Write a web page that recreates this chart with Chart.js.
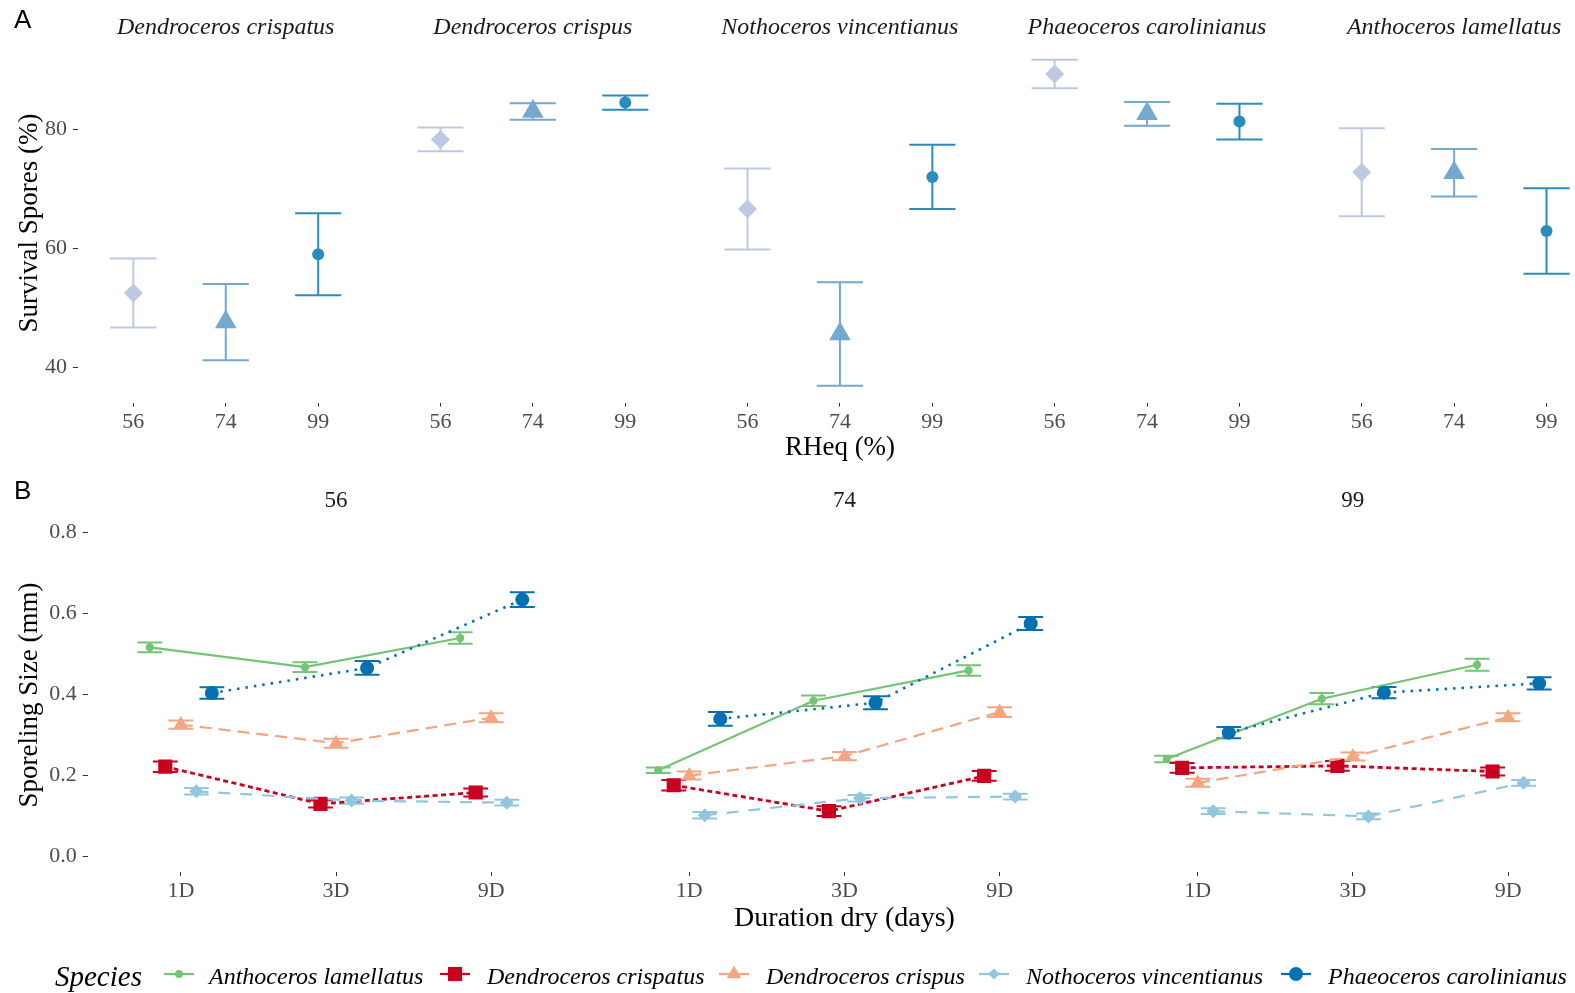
<!DOCTYPE html>
<html>
<head>
<meta charset="utf-8">
<script src="https://cdn.jsdelivr.net/npm/chart.js@4.4.1/dist/chart.umd.min.js"></script>
<style>
html,body{margin:0;padding:0;background:#fff;overflow:hidden;}
#wrap{position:relative;width:1575px;height:993px;font-family:"Liberation Serif","Times New Roman",serif;color:#1a1a1a;}
canvas{position:absolute;left:0;}
.t{position:absolute;white-space:nowrap;transform:translate(-50%,-50%);line-height:1;}
.it{font-style:italic;}
.rot{transform:translate(-50%,-50%) rotate(-90deg);}
.tag{position:absolute;font-family:"Liberation Sans",Arial,sans-serif;font-size:26px;line-height:1;transform:translateY(-50%);color:#000;}
.leg{position:absolute;white-space:nowrap;font-style:italic;font-size:24px;line-height:1;transform:translateY(-50%);color:#000;}
.key{position:absolute;transform:translate(-50%,-50%);}
</style>
</head>
<body>
<div id="wrap">
  <canvas id="chartA" width="1575" height="470" style="top:0px"></canvas>
  <canvas id="chartB" width="1575" height="523" style="top:470px"></canvas>
  <div id="labels"></div>
</div>
<script>
// ---------------- DATA ----------------
// Panel A: survival of spores (%) by species facet and RHeq level
const survivalSpecies = ['Dendroceros crispatus','Dendroceros crispus','Nothoceros vincentianus','Phaeoceros carolinianus','Anthoceros lamellatus'];
const rhLevels = ['56','74','99'];
const survival56   = [52.5, 78.3, 66.6, 89.3, 72.8];
const survival56Se = [5.8, 2.0, 6.8, 2.4, 7.4];
const survival74   = [47.6, 83.0, 45.6, 82.6, 72.7];
const survival74Se = [6.4, 1.4, 8.7, 2.0, 4.0];
const survival99   = [59.0, 84.5, 72.0, 81.3, 62.9];
const survival99Se = [6.9, 1.2, 5.4, 3.0, 7.2];
const survivalTicks = [40, 60, 80];

// Panel B: sporeling size (mm); each array = [RH56: 1D,3D,9D, RH74: 1D,3D,9D, RH99: 1D,3D,9D]
const dryDays = ['1D','3D','9D'];
const rhFacets = ['56','74','99'];
const sporeSpecies = ['Anthoceros lamellatus','Dendroceros crispatus','Dendroceros crispus','Nothoceros vincentianus','Phaeoceros carolinianus'];
const anthocerosSize = [0.516,0.467,0.539, 0.212,0.384,0.459, 0.240,0.389,0.473];
const anthocerosSe   = [0.012,0.012,0.014, 0.007,0.013,0.013, 0.008,0.014,0.015];
const crispatusSize  = [0.221,0.129,0.157, 0.175,0.111,0.198, 0.218,0.223,0.209];
const crispatusSe    = [0.013,0.009,0.010, 0.013,0.012,0.012, 0.012,0.012,0.010];
const crispusSize    = [0.325,0.279,0.342, 0.199,0.247,0.356, 0.181,0.246,0.343];
const crispusSe      = [0.010,0.011,0.011, 0.010,0.010,0.012, 0.010,0.010,0.010];
const nothocerosSize = [0.160,0.137,0.132, 0.101,0.143,0.147, 0.111,0.098,0.181];
const nothocerosSe   = [0.008,0.008,0.007, 0.008,0.008,0.007, 0.007,0.007,0.007];
const phaeocerosSize = [0.403,0.465,0.634, 0.339,0.379,0.575, 0.305,0.404,0.427];
const phaeocerosSe   = [0.014,0.017,0.018, 0.017,0.016,0.016, 0.014,0.014,0.015];
const sizeTicks = [0.0, 0.2, 0.4, 0.6, 0.8];

// ---------------- STYLE / LAYOUT ----------------
const FACET_A = 3.323, FACET_B = 3.276;
const DODGE = [-0.2, -0.1, 0, 0.1, 0.2];
const colA = ['#bdc9e1', '#74a9cf', '#2b8cbe'];
const shapeA = ['rectRot', 'triangle', 'circle'];
const radA = [9.5, 12.5, 6];
const colB = ['#74c476', '#ca0020', '#f4a582', '#92c5de', '#0571b0'];
const shapeB = ['circle', 'rect', 'triangle', 'rectRot', 'circle'];
const radB = [4, 10, 8.5, 7, 7];
const dashB = [[], [5, 3.5], [12, 7], [12, 10], [2.5, 6]];
const lwB = [2.2, 2.8, 2.2, 2.2, 2.6];
const TICK_COLOR = '#4d4d4d';
const FONT = '"Liberation Serif", "Times New Roman", serif';

const errorBarPlugin = {
  id: 'errbars',
  beforeDatasetsDraw(chart) {
    const ctx = chart.ctx, xs = chart.scales.x, ys = chart.scales.y;
    const cap = chart.options.plugins.errbars.cap;
    ctx.save();
    chart.data.datasets.forEach(ds => {
      ctx.strokeStyle = ds.pointBackgroundColor;
      ctx.lineWidth = 2;
      ctx.setLineDash([]);
      ds.data.forEach(p => {
        if (p.e == null) return;
        const px = xs.getPixelForValue(p.x);
        const x0 = xs.getPixelForValue(p.x - cap), x1 = xs.getPixelForValue(p.x + cap);
        const yt = ys.getPixelForValue(p.y + p.e), yb = ys.getPixelForValue(p.y - p.e);
        ctx.beginPath();
        ctx.moveTo(x0, yt); ctx.lineTo(x1, yt);
        ctx.moveTo(x0, yb); ctx.lineTo(x1, yb);
        ctx.moveTo(px, yt); ctx.lineTo(px, yb);
        ctx.stroke();
      });
    });
    ctx.restore();
  }
};

function axisCommon(tickLen, pad, size) {
  return {
    grid: { display: true, drawOnChartArea: false, drawTicks: true, tickLength: tickLen, color: '#333333', lineWidth: 1 },
    border: { display: false },
    ticks: { color: TICK_COLOR, font: { family: FONT, size: size }, padding: pad, autoSkip: false, maxRotation: 0, minRotation: 0 }
  };
}

// ---------------- CHART A ----------------
const survivalMeans = [survival56, survival74, survival99];
const survivalSes = [survival56Se, survival74Se, survival99Se];
const xTickPosA = [], xTickLabA = [];
survivalSpecies.forEach((s, f) => rhLevels.forEach((rh, j) => { xTickPosA.push(f * FACET_A + j + 1); xTickLabA.push(rh); }));

const dsA = rhLevels.map((rh, j) => ({
  label: rh,
  data: survivalSpecies.map((s, f) => ({ x: f * FACET_A + j + 1, y: survivalMeans[j][f], e: survivalSes[j][f] })),
  showLine: false,
  pointStyle: shapeA[j],
  pointRadius: radA[j],
  pointBackgroundColor: colA[j],
  pointBorderColor: colA[j],
  pointBorderWidth: 0
}));

const xA = axisCommon(4, 2, 22);
xA.type = 'linear'; xA.min = 0.4; xA.max = 16.60;
xA.afterBuildTicks = sc => { sc.ticks = xTickPosA.map(v => ({ value: v })); };
xA.ticks.callback = (v, i) => xTickLabA[i];
xA.afterFit = sc => { sc.height = 40; };
const yA = axisCommon(5, 6, 22);
yA.min = 34.06; yA.max = 94.51;
yA.afterBuildTicks = sc => { sc.ticks = survivalTicks.map(v => ({ value: v })); };
yA.ticks.callback = v => String(v);
yA.afterFit = sc => { sc.width = 77.9; };

new Chart(document.getElementById('chartA'), {
  type: 'scatter',
  data: { datasets: dsA },
  options: {
    responsive: false, animation: false, events: [], devicePixelRatio: 1,
    layout: { autoPadding: false, padding: { left: 0, right: 0, top: 43, bottom: 470 - 402.6 - 40 } },
    plugins: { legend: { display: false }, tooltip: { enabled: false }, errbars: { cap: 0.25 } },
    scales: { x: xA, y: yA }
  },
  plugins: [errorBarPlugin]
});

// ---------------- CHART B ----------------
const sizeValues = [anthocerosSize, crispatusSize, crispusSize, nothocerosSize, phaeocerosSize];
const sizeErrors = [anthocerosSe, crispatusSe, crispusSe, nothocerosSe, phaeocerosSe];
const xTickPosB = [], xTickLabB = [];
rhFacets.forEach((rh, f) => dryDays.forEach((d, k) => { xTickPosB.push(f * FACET_B + k + 1); xTickLabB.push(d); }));

const dsB = [];
sporeSpecies.forEach((sp, s) => {
  rhFacets.forEach((rh, f) => {
    dsB.push({
      label: sp + ' ' + rh,
      data: dryDays.map((d, k) => ({ x: f * FACET_B + k + 1 + DODGE[s], y: sizeValues[s][f * 3 + k], e: sizeErrors[s][f * 3 + k] })),
      showLine: true,
      borderColor: colB[s],
      borderWidth: lwB[s],
      borderDash: dashB[s],
      borderCapStyle: 'butt',
      tension: 0,
      pointStyle: shapeB[s],
      pointRadius: radB[s],
      pointBackgroundColor: colB[s],
      pointBorderColor: colB[s],
      pointBorderWidth: 0,
      order: -s
    });
  });
});

const xB = axisCommon(4, 2, 22);
xB.type = 'linear'; xB.min = 0.4; xB.max = 9.983;
xB.afterBuildTicks = sc => { sc.ticks = xTickPosB.map(v => ({ value: v })); };
xB.ticks.callback = (v, i) => xTickLabB[i];
xB.afterFit = sc => { sc.height = 40; };
const yB = axisCommon(5, 6, 22);
yB.min = -0.04; yB.max = 0.84;
yB.afterBuildTicks = sc => { sc.ticks = sizeTicks.map(v => ({ value: v })); };
yB.ticks.callback = v => Number(v).toFixed(1);
yB.afterFit = sc => { sc.width = 87.7; };

new Chart(document.getElementById('chartB'), {
  type: 'scatter',
  data: { datasets: dsB },
  options: {
    responsive: false, animation: false, events: [], devicePixelRatio: 1,
    layout: { autoPadding: false, padding: { left: 0, right: 0, top: 46.3, bottom: 523 - 402.2 - 40 } },
    plugins: { legend: { display: false }, tooltip: { enabled: false }, errbars: { cap: 0.08 } },
    scales: { x: xB, y: yB }
  },
  plugins: [errorBarPlugin]
});

// ---------------- TEXT LABELS ----------------
const L = document.getElementById('labels');
function addText(txt, x, y, cls, size, extra) {
  const d = document.createElement('div');
  d.className = cls; d.textContent = txt;
  d.style.left = x + 'px'; d.style.top = y + 'px'; d.style.fontSize = size + 'px';
  if (extra) Object.assign(d.style, extra);
  L.appendChild(d);
}
// panel tags
addText('A', 14, 19, 'tag', 26);
addText('B', 14, 490, 'tag', 26);
// facet titles (A)
survivalSpecies.forEach((s, f) => addText(s, 133.3 + 92.4 + f * 307.1, 26, 't it', 24));
// facet strips (B)
rhFacets.forEach((rh, f) => addText(rh, 180.8 + 155.2 + f * 508.4, 499, 't', 23));
// axis titles
addText('RHeq (%)', 840, 446, 't', 27, { color: '#000' });
addText('Duration dry (days)', 844.5, 917, 't', 28, { color: '#000' });
addText('Survival Spores (%)', 28, 223, 't rot', 27, { color: '#000' });
addText('Sporeling Size (mm)', 28, 695, 't rot', 27, { color: '#000' });

// legend
addText('Species', 55, 976, 'leg', 29);
const keyX = [179, 455, 734, 994, 1296];
const textX = [209, 487, 766, 1026, 1328];
function markerSvg(s) {
  const c = colB[s];
  let m = '';
  if (shapeB[s] === 'circle') m = `<circle cx="17" cy="12" r="${radB[s]}" fill="${c}"/>`;
  else if (shapeB[s] === 'rect') { const h = radB[s] * Math.SQRT1_2; m = `<rect x="${17 - h}" y="${12 - h}" width="${2 * h}" height="${2 * h}" fill="${c}"/>`; }
  else if (shapeB[s] === 'triangle') { const r = radB[s]; m = `<polygon points="17,${12 - r} ${17 + r * 0.866},${12 + r / 2} ${17 - r * 0.866},${12 + r / 2}" fill="${c}"/>`; }
  else { const r = radB[s] * 0.8; m = `<polygon points="17,${12 - r} ${17 + r},12 17,${12 + r} ${17 - r},12" fill="${c}"/>`; }
  return `<svg width="34" height="24" xmlns="http://www.w3.org/2000/svg"><line x1="2" y1="12" x2="32" y2="12" stroke="${c}" stroke-width="2.2"/>${m}</svg>`;
}
sporeSpecies.forEach((sp, s) => {
  const k = document.createElement('div');
  k.className = 'key'; k.style.left = keyX[s] + 'px'; k.style.top = '976px';
  k.innerHTML = markerSvg(s);
  L.appendChild(k);
  addText(sp, textX[s], 976, 'leg', 24);
});
</script>
</body>
</html>
